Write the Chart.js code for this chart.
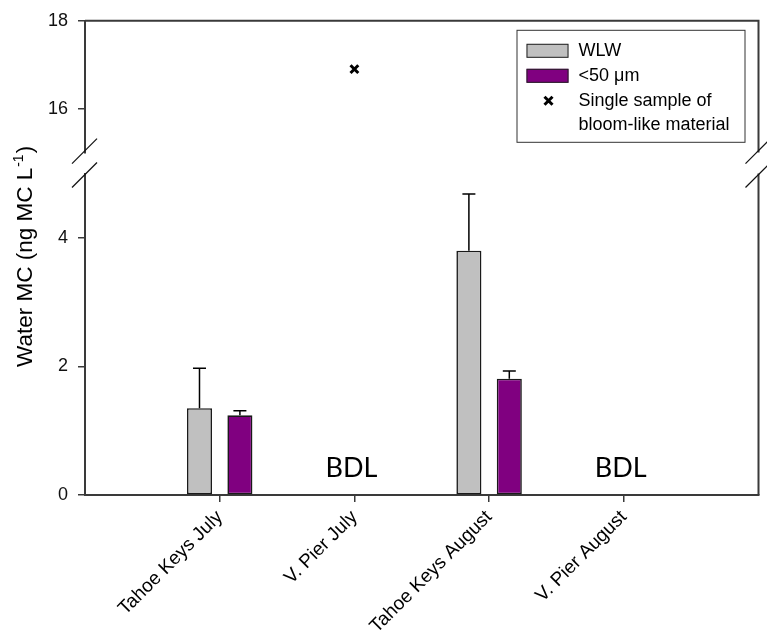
<!DOCTYPE html>
<html>
<head>
<meta charset="utf-8">
<script src="https://cdn.jsdelivr.net/npm/chart.js@4/dist/chart.umd.min.js"></script>
<style>
  html, body { margin: 0; padding: 0; background: #fff; }
  canvas { display: block; }
</style>
</head>
<body>
<canvas id="mc" width="767" height="634"></canvas>
<script>
// Sampling sites / months along the x axis
const categories = ['Tahoe Keys July', 'V. Pier July', 'Tahoe Keys August', 'V. Pier August'];

// Whole lake water (WLW) and <50 µm fraction: means and upper error (SD)
const wlwMean  = [1.35, null, 3.80, null];
const wlwErr   = [0.62, null, 0.88, null];
const fineMean = [1.24, null, 1.81, null];
const fineErr  = [0.07, null, 0.12, null];

// Single bloom-like sample, shown on the upper (broken) segment
const bloomSample = [null, 16.9, null, null];

// Sites below detection limit
const bdlLabels = ['', 'BDL', '', 'BDL'];

// Tick values for the two y segments
const lowerTicks = [0, 2, 4];
const upperTicks = [16, 18];
const lowerRange = [0, 5];
const upperRange = [15, 18];

const AXIS_COLOR = '#3a3a3a';
const FONT = "'Liberation Sans', Arial, sans-serif";

const toPoints = arr => arr.map((v, i) => ({ x: i + 1, y: v }));

// Upper error whiskers with caps on bar datasets
const errorBars = {
  id: 'errorBars',
  afterDatasetsDraw(chart) {
    const { ctx } = chart;
    chart.data.datasets.forEach((ds, di) => {
      if (!ds.errors) return;
      const meta = chart.getDatasetMeta(di);
      const yScale = chart.scales[meta.yAxisID];
      meta.data.forEach((bar, i) => {
        const v = ds.data[i].y, e = ds.errors[i];
        if (v == null || e == null) return;
        const yTop = yScale.getPixelForValue(v + e);
        const yBar = yScale.getPixelForValue(v);
        ctx.save();
        ctx.strokeStyle = '#000';
        ctx.lineWidth = 1.5;
        ctx.beginPath();
        ctx.moveTo(bar.x, yBar);
        ctx.lineTo(bar.x, yTop);
        ctx.moveTo(bar.x - 6.5, yTop);
        ctx.lineTo(bar.x + 6.5, yTop);
        ctx.stroke();
        ctx.restore();
      });
    });
  }
};

// Frame, axis-break marks, BDL notes, y title and the boxed legend
const decorations = {
  id: 'decorations',
  afterDraw(chart) {
    const { ctx, chartArea, scales } = chart;
    const top = scales.yTop, low = scales.yLow, x = scales.x;
    const L = chartArea.left, R = chartArea.right;

    ctx.save();
    // top and right frame lines, broken like the y axis
    ctx.strokeStyle = AXIS_COLOR;
    ctx.lineWidth = 2;
    ctx.beginPath();
    ctx.moveTo(L, chartArea.top);
    ctx.lineTo(R, chartArea.top);
    ctx.lineTo(R, top.bottom);
    ctx.moveTo(R, low.top);
    ctx.lineTo(R, chartArea.bottom);
    ctx.stroke();

    // double slash break marks on both sides
    ctx.strokeStyle = '#111';
    ctx.lineWidth = 1.2;
    [L - 0.5, R - 0.5].forEach(cx => {
      [top.bottom - 1.5, low.top + 1.5].forEach(cy => {
        ctx.beginPath();
        ctx.moveTo(cx - 12.5, cy + 12.5);
        ctx.lineTo(cx + 12.5, cy - 12.5);
        ctx.stroke();
      });
    });

    // below-detection-limit notes
    ctx.fillStyle = '#000';
    ctx.font = "27px Lato, 'Open Sans', sans-serif";
    ctx.textAlign = 'center';
    ctx.textBaseline = 'alphabetic';
    bdlLabels.forEach((t, i) => {
      if (!t) return;
      ctx.fillText(t, x.getPixelForValue(i + 1) - 3, chartArea.bottom - 18);
    });

    // y axis title with superscript
    ctx.save();
    ctx.translate(32, 367);
    ctx.rotate(-Math.PI / 2);
    ctx.textAlign = 'left';
    ctx.textBaseline = 'alphabetic';
    ctx.font = '22.5px ' + FONT;
    const main = 'Water MC (ng MC L';
    ctx.fillText(main, 0, 0);
    let w = ctx.measureText(main).width;
    ctx.font = '14px ' + FONT;
    ctx.fillText('-1', w + 1, -9);
    w += ctx.measureText('-1').width + 2;
    ctx.font = '22.5px ' + FONT;
    ctx.fillText(')', w, 0);
    ctx.restore();

    // legend box
    const bx = R - 242, by = chartArea.top + 9, bw = 228, bh = 112;
    ctx.strokeStyle = '#333';
    ctx.lineWidth = 1;
    ctx.strokeRect(bx + 0.5, by + 0.5, bw, bh);
    const rows = [by + 21, by + 46, by + 71];
    ctx.font = '18px ' + FONT;
    ctx.textAlign = 'left';
    ctx.textBaseline = 'middle';
    chart.data.datasets.forEach((ds, i) => {
      const cy = rows[i];
      if (ds.type === 'bar') {
        ctx.fillStyle = ds.backgroundColor;
        ctx.fillRect(bx + 10, cy - 7, 42, 14);
        ctx.strokeStyle = '#222';
        ctx.lineWidth = 1;
        ctx.strokeRect(bx + 10.5, cy - 6.5, 41, 13);
      } else {
        ctx.strokeStyle = '#000';
        ctx.lineWidth = 3;
        const mx = bx + 32, r = 4;
        ctx.beginPath();
        ctx.moveTo(mx - r, cy - r); ctx.lineTo(mx + r, cy + r);
        ctx.moveTo(mx - r, cy + r); ctx.lineTo(mx + r, cy - r);
        ctx.stroke();
      }
      ctx.fillStyle = '#000';
      ds.label.split('\n').forEach((line, k) => {
        ctx.fillText(line, bx + 62, cy + k * 24);
      });
    });
    ctx.restore();
  }
};

const tickFont = { family: FONT, size: 18 };

new Chart(document.getElementById('mc'), {
  type: 'bar',
  data: {
    datasets: [
      {
        type: 'bar', label: 'WLW', data: toPoints(wlwMean), errors: wlwErr,
        backgroundColor: '#c0c0c0', borderColor: '#1a1a1a', borderWidth: 1.6, borderSkipped: false,
        xAxisID: 'x', yAxisID: 'yLow', categoryPercentage: 0.6, barPercentage: 0.62
      },
      {
        type: 'bar', label: '<50 \u03bcm', data: toPoints(fineMean), errors: fineErr,
        backgroundColor: '#800080', borderColor: '#1a1a1a', borderWidth: 1.6, borderSkipped: false,
        xAxisID: 'x', yAxisID: 'yLow', categoryPercentage: 0.6, barPercentage: 0.62
      },
      {
        type: 'scatter', label: 'Single sample of\nbloom-like material',
        data: toPoints(bloomSample).filter(p => p.y != null),
        xAxisID: 'x', yAxisID: 'yTop',
        pointStyle: 'crossRot', radius: 5.5, borderWidth: 3,
        borderColor: '#000', backgroundColor: '#000'
      }
    ]
  },
  options: {
    responsive: false,
    animation: false,
    layout: { padding: { left: 48, right: 7, top: 20, bottom: 0 } },
    plugins: { legend: { display: false }, tooltip: { enabled: false } },
    scales: {
      x: {
        type: 'linear', position: 'bottom', min: 0, max: categories.length + 1,
        offset: false,
        afterBuildTicks: s => { s.ticks = categories.map((_, i) => ({ value: i + 1 })); },
        afterFit: s => { s.height = 139; },
        ticks: {
          callback: v => categories[v - 1] || '',
          minRotation: 45, maxRotation: 45, autoSkip: false,
          font: { family: FONT, size: 19 }, color: '#000', padding: 4
        },
        grid: { offset: false, drawOnChartArea: false, drawTicks: true, tickLength: 7, color: AXIS_COLOR, lineWidth: 1.5 },
        border: { color: AXIS_COLOR, width: 2 }
      },
      yLow: {
        type: 'linear', position: 'left', stack: 'v', stackWeight: 322,
        min: lowerRange[0], max: lowerRange[1],
        afterBuildTicks: s => { s.ticks = lowerTicks.map(v => ({ value: v })); },
        afterFit: s => { s.width = 37; },
        ticks: { font: tickFont, color: '#111', padding: 10 },
        grid: { drawOnChartArea: false, drawTicks: true, tickLength: 7, color: AXIS_COLOR, lineWidth: 1.5 },
        border: { color: AXIS_COLOR, width: 2 }
      },
      yGap: {
        type: 'linear', position: 'left', stack: 'v', stackWeight: 21,
        afterFit: s => { s.width = 37; },
        ticks: { display: false },
        grid: { display: false },
        border: { display: false }
      },
      yTop: {
        type: 'linear', position: 'left', stack: 'v', stackWeight: 132,
        min: upperRange[0], max: upperRange[1],
        afterBuildTicks: s => { s.ticks = upperTicks.map(v => ({ value: v })); },
        afterFit: s => { s.width = 37; },
        ticks: { font: tickFont, color: '#111', padding: 10 },
        grid: { drawOnChartArea: false, drawTicks: true, tickLength: 7, color: AXIS_COLOR, lineWidth: 1.5 },
        border: { color: AXIS_COLOR, width: 2 }
      }
    }
  },
  plugins: [errorBars, decorations]
});
</script>
</body>
</html>
